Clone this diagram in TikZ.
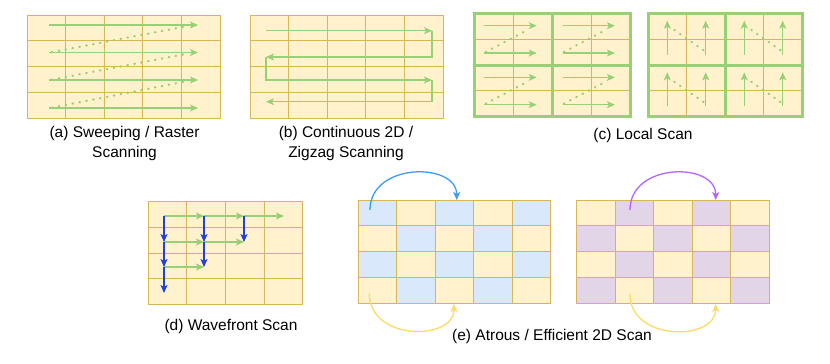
\documentclass[tikz,border=0pt]{standalone}
\usepackage{fontspec}
\setmainfont{Liberation Sans}
\usetikzlibrary{arrows.meta}

\definecolor{cellfill}{HTML}{FFF2CC}
\definecolor{cellline}{HTML}{D6B656}
\definecolor{scangreen}{HTML}{97D077}
\definecolor{waveblue}{HTML}{1F3FE3}
\definecolor{atrousblue}{HTML}{DAE8FC}
\definecolor{atrouspurple}{HTML}{E1D5E7}
\definecolor{arcblue}{HTML}{3D9BF7}
\definecolor{arcpurple}{HTML}{B266FF}
\definecolor{arcyellow}{HTML}{FFD966}

\tikzset{
  cell/.style={fill=cellfill, draw=cellline, line width=1pt},
  block/.style={draw=scangreen, line width=3pt},
  scanarrow/.style={draw=scangreen, line width=1.1pt, -{Stealth[length=8pt,width=7pt,inset=2pt]}},
  scandots/.style={draw=scangreen, line width=2.2pt, line cap=round, dash pattern=on 0.6pt off 6.4pt},
  wavearrow/.style={draw=waveblue, line width=1.1pt, -{Stealth[length=8pt,width=7pt,inset=2pt]}},
  arcline/.style={line width=1.3pt, -{Stealth[length=8pt,width=7pt,inset=2pt]}},
  caption/.style={font=\fontsize{15.5}{20}\selectfont, align=center, inner sep=0pt}
}

\begin{document}
\begin{tikzpicture}[x=1pt, y=-1pt]

    \useasboundingbox (0,0) rectangle (830,364);

    % (a) Sweeping / Raster scanning
    \foreach \c in {0,...,4} \foreach \r in {0,...,3}
        \draw[cell] (27+38.6*\c, 15+25.75*\r) rectangle ++(38.6,25.75);
    \foreach \y [count=\i] in {25,52.5,80,108} {
        \coordinate (a-l\i) at (49,\y);
        \coordinate (a-r\i) at (198,\y);
        \coordinate (a-dl\i) at (50,\y);
        \coordinate (a-dr\i) at (183,\y+2);
    }
    \foreach \i in {1,2,3,4}
        \draw[scanarrow] (a-l\i) -- (a-r\i);
    \foreach \i/\j in {1/2,2/3,3/4}
        \draw[scandots] (a-dr\i) -- (a-dl\j);
    \node[caption] (cap-a) at (124.5,143.3) {(a) Sweeping / Raster\\Scanning};

    % (b) Continuous 2D / zigzag scanning
    \foreach \c in {0,...,4} \foreach \r in {0,...,3}
        \draw[cell] (250+38.6*\c, 15+25.75*\r) rectangle ++(38.6,25.75);
    \foreach \y [count=\i] in {30.7,57,80,101.7} {
        \coordinate (b-l\i) at (266,\y);
        \coordinate (b-r\i) at (432,\y);
    }
    \draw[scanarrow] (b-l1) -- (b-r1);
    \draw[scanarrow] (b-r1) |- (b-l2);
    \draw[scanarrow] (b-l2) |- (b-r3);
    \draw[scanarrow] (b-r3) |- (b-l4);
    \node[caption] (cap-b) at (346,143.3) {(b) Continuous 2D /\\Zigzag Scanning};

    % (c) Local scan, row-wise windows
    \foreach \c in {0,...,3} \foreach \r in {0,...,3}
        \draw[cell] (474.3+39.1*\c, 13.3+25.85*\r) rectangle ++(39.1,25.85);
    \foreach \bx in {0,1} \foreach \by in {0,1} {
        \begin{scope}[shift={(474.3+78.2*\bx, 13.3+51.7*\by)}]
            \coordinate (ts) at (10,12.4);
            \coordinate (te) at (62.4,12.4);
            \coordinate (bs) at (10,39.7);
            \coordinate (be) at (62.4,39.7);
            \coordinate (ds) at (11.4,38.7);
            \coordinate (de) at (50.7,18);
            \draw[scanarrow] (ts) -- (te);
            \draw[scanarrow] (bs) -- (be);
            \draw[scandots] (ds) -- (de);
        \end{scope}
    }
    \foreach \bx in {0,1} \foreach \by in {0,1}
        \draw[block] (474.3+78.2*\bx, 13.3+51.7*\by) rectangle ++(78.2,51.7);

    % (c) Local scan, column-wise windows
    \foreach \c in {0,...,3} \foreach \r in {0,...,3}
        \draw[cell] (648.3+38.5*\c, 13.3+25.85*\r) rectangle ++(38.5,25.85);
    \foreach \bx in {0,1} \foreach \by in {0,1} {
        \begin{scope}[shift={(648.3+77*\bx, 13.3+51.7*\by)}]
            \coordinate (ls) at (19,41.4);
            \coordinate (le) at (19,7.4);
            \coordinate (rs) at (57.4,41.4);
            \coordinate (re) at (57.4,7.4);
            \coordinate (ds) at (26,16.7);
            \coordinate (de) at (56.7,38);
            \draw[scanarrow] (ls) -- (le);
            \draw[scanarrow] (rs) -- (re);
            \draw[scandots] (ds) -- (de);
        \end{scope}
    }
    \foreach \bx in {0,1} \foreach \by in {0,1}
        \draw[block] (648.3+77*\bx, 13.3+51.7*\by) rectangle ++(77,51.7);
    \node[caption] (cap-c) at (643,135) {(c) Local Scan};

    % (d) Wavefront scan
    \foreach \c in {0,...,3} \foreach \r in {0,...,3}
        \draw[cell] (148.3+38.6*\c, 201.7+25.65*\r) rectangle ++(38.6,25.65);
    \foreach \y [count=\i] in {216,242,267,293}
        \foreach \x [count=\j] in {164,204,244,284}
            \coordinate (d-\i-\j) at (\x,\y);
    \foreach \i/\j/\k in {1/1/2,1/2/3,1/3/4,2/1/2,2/2/3,3/1/2}
        \draw[scanarrow] (d-\i-\j) -- (d-\i-\k);
    \foreach \i/\k/\j in {1/2/1,2/3/1,3/4/1,1/2/2,2/3/2,1/2/3}
        \draw[wavearrow] (d-\i-\j) -- (d-\k-\j);
    \node[caption] (cap-d) at (231,326.7) {(d) Wavefront Scan};

    % (e) Atrous scan, blue group
    \foreach \c in {0,...,4} \foreach \r in {0,...,3}
        \draw[cell] (358.3+38.5*\c, 200+25.8*\r) rectangle ++(38.5,25.8);
    \foreach \c/\r in {0/0,2/0,4/0,1/1,3/1,0/2,2/2,4/2,1/3,3/3}
        \draw[cell, fill=atrousblue] (358.3+38.5*\c, 200+25.8*\r) rectangle ++(38.5,25.8);
    \coordinate (eb-s) at (370,210);
    \coordinate (eb-e) at (456.7,200);
    \coordinate (ey-s) at (369.3,293.3);
    \coordinate (ey-e) at (454,304);
    \draw[arcline, draw=arcblue] (eb-s) .. controls +(0,-48) and +(0,-38) .. (eb-e);
    \draw[arcline, draw=arcyellow] (ey-s) .. controls +(0,48) and +(0,37) .. (ey-e);

    % (e) Atrous scan, purple group
    \foreach \c in {0,...,4} \foreach \r in {0,...,3}
        \draw[cell] (576.7+38.5*\c, 200+25.8*\r) rectangle ++(38.5,25.8);
    \foreach \c/\r in {1/0,3/0,0/1,2/1,4/1,1/2,3/2,0/3,2/3,4/3}
        \draw[cell, fill=atrouspurple] (576.7+38.5*\c, 200+25.8*\r) rectangle ++(38.5,25.8);
    \coordinate (ep-s) at (630,210);
    \coordinate (ep-e) at (715.7,200);
    \coordinate (eq-s) at (630,294);
    \coordinate (eq-e) at (715.7,304);
    \draw[arcline, draw=arcpurple] (ep-s) .. controls +(0,-48) and +(0,-38) .. (ep-e);
    \draw[arcline, draw=arcyellow] (eq-s) .. controls +(0,48) and +(0,37) .. (eq-e);
    \node[caption] (cap-e) at (552,336.7) {(e) Atrous / Efficient 2D Scan};

\end{tikzpicture}
\end{document}
